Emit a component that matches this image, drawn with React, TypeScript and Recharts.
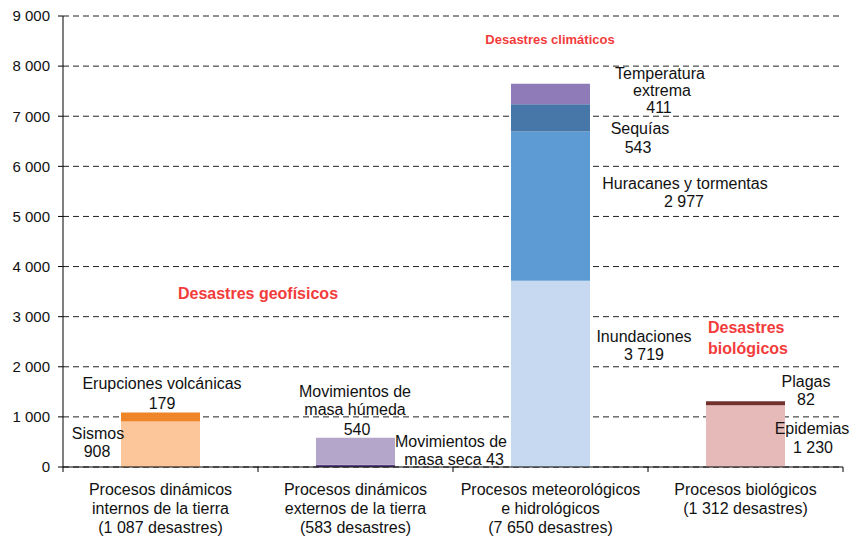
import { Bar, BarChart, CartesianGrid, Cell, XAxis, YAxis } from "recharts";

const W = 852;
const H = 539;
const FONT = "'Liberation Sans', Arial, sans-serif";

const categoryLines = [
  ["Procesos dinámicos", "internos de la tierra", "(1 087 desastres)"],
  ["Procesos dinámicos", "externos de la tierra", "(583 desastres)"],
  ["Procesos meteorológicos", "e hidrológicos", "(7 650 desastres)"],
  ["Procesos biológicos", "(1 312 desastres)"],
];

// stacked segments, bottom to top
const seg1 = [908, 43, 3719, 1230]; // sismos, masa seca, inundaciones, epidemias
const seg2 = [179, 540, 2977, 82]; // erupciones, masa húmeda, huracanes, plagas
const seg3 = [0, 0, 543, 0]; // sequías
const seg4 = [0, 0, 411, 0]; // temperatura extrema

const seg1Colors = ["#FCC59A", "#5B4585", "#C6D9F0", "#E6BAB8"];
const seg2Colors = ["#EE8528", "#B4A5CA", "#5C9BD4", "#73312D"];
const seg3Colors = ["#fff", "#fff", "#4776A8", "#fff"];
const seg4Colors = ["#fff", "#fff", "#8E7BB8", "#fff"];

const yTicks = [0, 1000, 2000, 3000, 4000, 5000, 6000, 7000, 8000, 9000];

const data = categoryLines.map((lines, i) => ({
  name: lines.join(" "),
  lines,
  s1: seg1[i],
  s2: seg2[i],
  s3: seg3[i],
  s4: seg4[i],
}));

const fmt = (v: number) => String(v).replace(/\B(?=(\d{3})+(?!\d))/g, " ");

const RED = "#F23B3B";

// annotation texts: [text, x, y, color, weight, size, anchor]
const notes: [string, number, number, string?, number?, number?, string?][] = [
  ["Erupciones volcánicas", 162, 383],
  ["179", 162, 403],
  ["Sismos", 98, 433],
  ["908", 97, 451],
  ["Movimientos de", 355, 391],
  ["masa húmeda", 355, 409],
  ["540", 357, 429],
  ["Movimientos de", 451, 441],
  ["masa seca 43", 454, 459],
  ["Temperatura", 660, 73],
  ["extrema", 662, 90],
  ["411", 659, 107],
  ["Sequías", 640, 128],
  ["543", 638, 147],
  ["Huracanes y tormentas", 685, 183],
  ["2 977", 684, 201],
  ["Inundaciones", 644, 336],
  ["3 719", 644, 354],
  ["Plagas", 806, 381],
  ["82", 806, 399],
  ["Epidemias", 812, 428],
  ["1 230", 813, 447],
  ["Desastres climáticos", 550, 39, RED, 700, 13],
  ["Desastres geofísicos", 258, 293, RED, 700, 16],
  ["Desastres", 708, 327, RED, 700, 16, "start"],
  ["biológicos", 708, 348, RED, 700, 16, "start"],
];

function CategoryTick(props: any) {
  const { x, y, payload, index } = props;
  const half = 97.5;
  const lines: string[] = data[index]?.lines ?? [payload.value];
  return (
    <g>
      <line x1={x - half} y1={y - 8} x2={x - half} y2={y - 3} stroke="#000" />
      {index === data.length - 1 && <line x1={x + half} y1={y - 8} x2={x + half} y2={y - 3} stroke="#000" />}
      <text x={x} y={y + 20} textAnchor="middle" fontSize={16} fill="#111" fontFamily={FONT}>
        {lines.map((l, i) => (
          <tspan key={i} x={x} dy={i === 0 ? 0 : 19}>
            {l}
          </tspan>
        ))}
      </text>
    </g>
  );
}

export default function App() {
  return (
    <div style={{ position: "absolute", left: 0, top: 0, width: W, height: H, background: "#fff", fontFamily: FONT }}>
      <BarChart width={W} height={H} data={data} margin={{ top: 16, right: 9, left: 0, bottom: 0 }}>
        <CartesianGrid horizontal vertical={false} stroke="#222" strokeDasharray="6 4" />
        <XAxis
          dataKey="name"
          interval={0}
          height={72}
          axisLine={{ stroke: "#000" }}
          tickLine={false}
          tick={<CategoryTick />}
        />
        <YAxis
          domain={[0, 9000]}
          ticks={yTicks}
          width={63}
          tickFormatter={fmt}
          tickSize={5}
          tickMargin={8}
          axisLine={{ stroke: "#000" }}
          tickLine={{ stroke: "#000" }}
          tick={{ fill: "#111", fontSize: 15, fontFamily: FONT }}
        />
        <Bar dataKey="s1" stackId="a" barSize={79} isAnimationActive={false}>
          {data.map((_, i) => (
            <Cell key={i} fill={seg1Colors[i]} />
          ))}
        </Bar>
        <Bar dataKey="s2" stackId="a" barSize={79} isAnimationActive={false}>
          {data.map((_, i) => (
            <Cell key={i} fill={seg2Colors[i]} />
          ))}
        </Bar>
        <Bar dataKey="s3" stackId="a" barSize={79} isAnimationActive={false}>
          {data.map((_, i) => (
            <Cell key={i} fill={seg3Colors[i]} />
          ))}
        </Bar>
        <Bar dataKey="s4" stackId="a" barSize={79} isAnimationActive={false}>
          {data.map((_, i) => (
            <Cell key={i} fill={seg4Colors[i]} />
          ))}
        </Bar>
      </BarChart>
      <svg width={W} height={H} style={{ position: "absolute", left: 0, top: 0, pointerEvents: "none" }}>
        {notes.map(([t, x, y, color, weight, size, anchor], i) => (
          <text
            key={i}
            x={x}
            y={y}
            dominantBaseline="central"
            textAnchor={(anchor as any) ?? "middle"}
            fontSize={size ?? 16}
            fontWeight={weight ?? 400}
            fill={color ?? "#111"}
            fontFamily={FONT}
          >
            {t}
          </text>
        ))}
      </svg>
    </div>
  );
}
